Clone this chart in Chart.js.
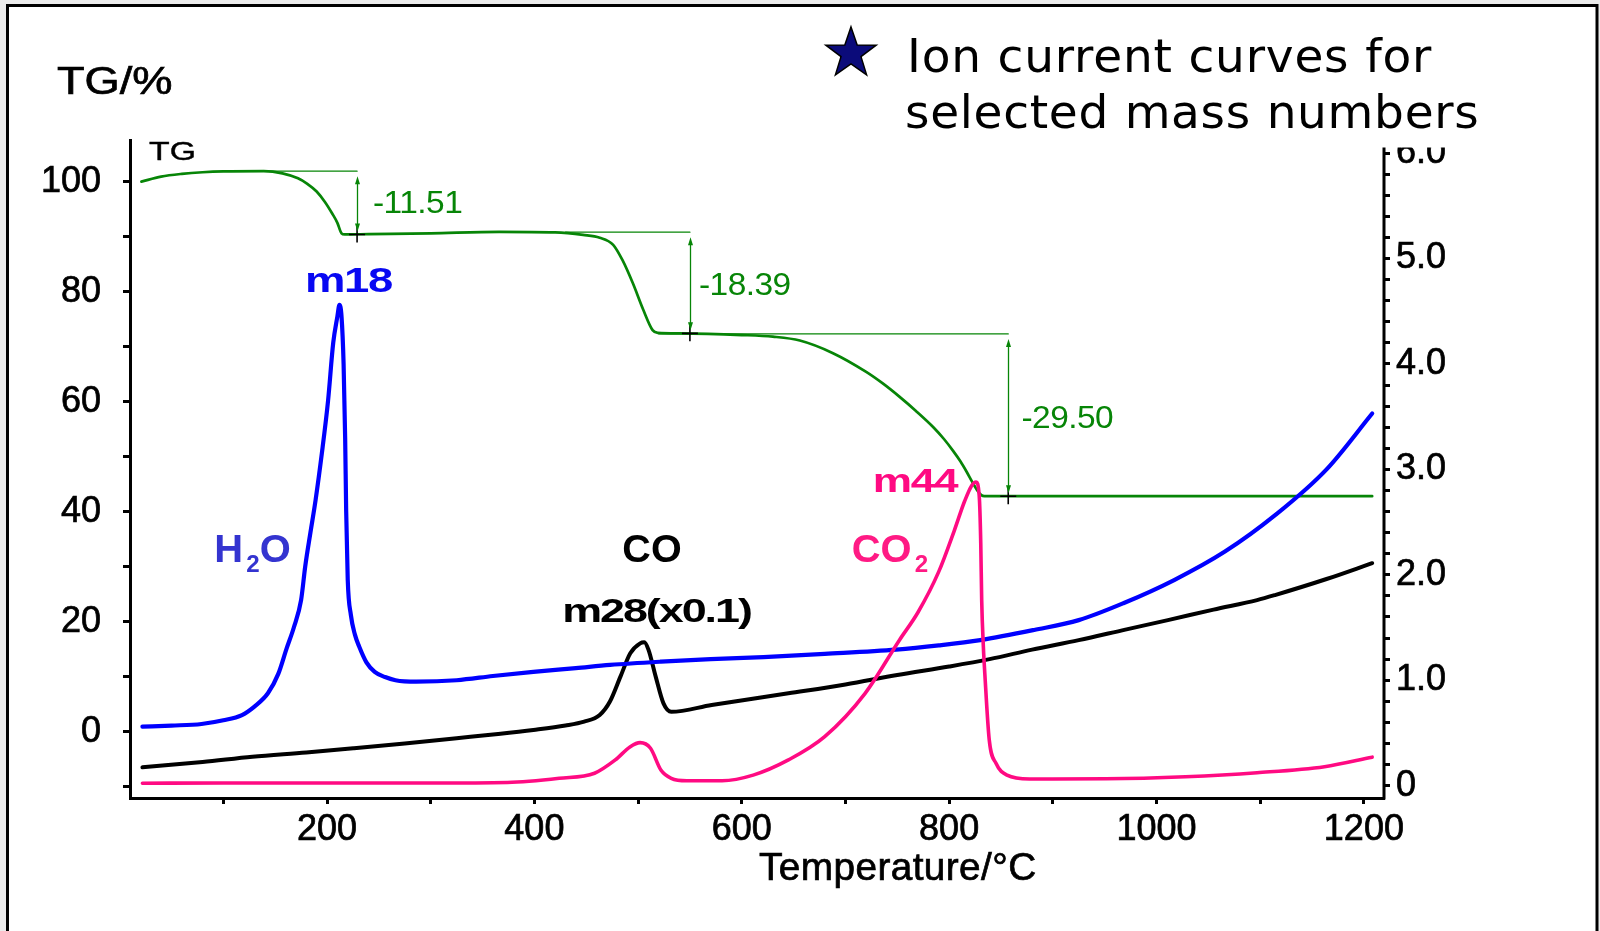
<!DOCTYPE html>
<html>
<head>
<meta charset="utf-8">
<script src="https://cdn.jsdelivr.net/npm/chart.js@4.4.1/dist/chart.umd.min.js"></script>
<style>
  html, body { margin: 0; padding: 0; background: #ebebeb; }
  #wrap { width: 1600px; height: 931px; }
</style>
</head>
<body>
<div id="wrap"><canvas id="tgms" width="1600" height="931"></canvas></div>
<script>
// TG mass curve: [temperature °C, mass %]
const tgCurve = [
  [21, 100.0], [40, 100.9], [60, 101.4], [80, 101.7], [100, 101.85], [139, 101.9],
  [157, 101.5], [172, 100.6], [181, 99.6], [190, 98.2], [198, 96.3], [205, 94.2],
  [210, 92.5], [214, 90.6], [217, 90.39], [240, 90.45], [300, 90.6], [366, 90.85],
  [420, 90.75], [447, 90.3], [463, 89.8], [476, 88.5], [485, 85.7], [495, 81.5],
  [505, 76.7], [514, 73.0], [519, 72.5], [540, 72.4], [600, 72.1], [630, 71.8],
  [656, 71.1], [688, 68.8], [720, 65.4], [736, 63.3], [752, 60.9], [768, 58.3],
  [785, 55.3], [795, 53.2], [804, 51.0], [811, 49.1], [817, 47.2], [822, 45.5],
  [827, 43.9], [831, 43.0], [834, 42.8], [900, 42.8], [1000, 42.8], [1100, 42.8],
  [1208, 42.8]
];

// ion current, m/z 18 (H2O)
const m18 = [
  [22, 0.56], [50, 0.57], [79, 0.585], [100, 0.62], [118, 0.67], [130, 0.75],
  [143, 0.876], [153, 1.06], [161, 1.3], [168, 1.5], [175, 1.76], [179, 2.08],
  [184, 2.4], [189, 2.71], [195, 3.15], [201, 3.65], [206, 4.2], [210, 4.45],
  [212, 4.56], [214, 4.45], [216, 4.0], [217.5, 3.3], [218.5, 2.6], [220, 1.95],
  [223, 1.62], [227, 1.43], [231, 1.32], [238, 1.17], [246, 1.08], [256, 1.03],
  [266, 1.0], [286, 0.986], [325, 1.0], [360, 1.04], [399, 1.08], [440, 1.115],
  [473, 1.145], [522, 1.176], [570, 1.2], [621, 1.22], [680, 1.25], [749, 1.29],
  [790, 1.33], [830, 1.38], [882, 1.477], [925, 1.57], [968, 1.73], [1017, 1.95],
  [1066, 2.22], [1115, 2.57], [1164, 3.0], [1208, 3.53]
];

// ion current, m/z 28 (CO), scaled x0.1
const m28 = [
  [22, 0.175], [80, 0.225], [128, 0.275], [180, 0.315], [226, 0.355], [275, 0.4],
  [325, 0.45], [365, 0.49], [399, 0.528], [430, 0.57], [448, 0.607], [463, 0.67],
  [473, 0.8], [483, 1.034], [492.5, 1.256], [502, 1.35], [506, 1.36], [510, 1.29],
  [517, 1.034], [524.5, 0.78], [532, 0.7], [571, 0.765], [645, 0.876], [700, 0.96],
  [750, 1.05], [800, 1.13], [839, 1.2], [880, 1.29], [925, 1.38], [970, 1.48],
  [1011, 1.57], [1055, 1.67], [1097, 1.76], [1115, 1.81], [1164, 1.96], [1208, 2.11]
];

// ion current, m/z 44 (CO2)
const m44 = [
  [22, 0.023], [100, 0.025], [200, 0.025], [300, 0.025], [374, 0.03], [424, 0.07],
  [458, 0.118], [478, 0.244], [492.5, 0.37], [502, 0.408], [512, 0.355], [522, 0.149],
  [532, 0.07], [547, 0.047], [581, 0.047], [611, 0.1], [645, 0.244], [680, 0.465],
  [719, 0.876], [752, 1.38], [770, 1.645], [790, 2.03], [805, 2.42], [815, 2.7],
  [822, 2.85], [826, 2.88], [829, 2.75], [830.5, 2.3], [831.4, 1.76], [833, 1.32],
  [834.4, 1.066], [838.7, 0.433], [845.2, 0.212], [855.8, 0.1], [877.5, 0.063],
  [951, 0.065], [1028, 0.085], [1097, 0.123], [1162, 0.18], [1208, 0.27]
];

// mass-loss steps: reference line start, arrow position, upper level, loss (%)
const stepStartT = [139, 430, 520];
const stepArrowT = [229, 550, 857];
const stepTop = [101.9, 90.8, 72.3];
const stepLoss = [11.51, 18.39, 29.50];

// tick positions (labels only on the major ones)
const tempTicks = [100, 200, 300, 400, 500, 600, 700, 800, 900, 1000, 1100, 1200];
const tgTicks = [-10, 0, 10, 20, 30, 40, 50, 60, 70, 80, 90, 100];
const ionTicks = [
  0, 0.2, 0.4, 0.6, 0.8, 1.0, 1.2, 1.4, 1.6, 1.8, 2.0, 2.2, 2.4, 2.6, 2.8, 3.0,
  3.2, 3.4, 3.6, 3.8, 4.0, 4.2, 4.4, 4.6, 4.8, 5.0, 5.2, 5.4, 5.6, 5.8, 6.0
];

// axis ranges
const tempRange = [10, 1219.4];
const tgRange = [-12.07, 107.56];
const ionRange = [-0.117, 6.124];

const SANS = "'Liberation Sans', Arial, Helvetica, sans-serif";
const LEGEND = "'DejaVu Sans', Verdana, sans-serif";
const GREEN = '#078507';

const pts = arr => arr.map(([x, y]) => ({ x, y }));
const setTicks = list => scale => { scale.ticks = list.map(value => ({ value })); };

function drawText(c, str, x, y, o) {
  c.save();
  c.font = o.font;
  c.fillStyle = o.color || '#000';
  c.textAlign = o.align || 'left';
  c.textBaseline = 'alphabetic';
  c.letterSpacing = (o.spacing || 0) + 'px';
  c.translate(x, y);
  c.scale(o.sx || 1, 1);
  c.fillText(str, 0, 0);
  if (o.stroke) {
    c.strokeStyle = o.color || '#000';
    c.lineWidth = o.stroke;
    c.strokeText(str, 0, 0);
  }
  c.restore();
}

// bold formula label, subscripts drawn smaller and lowered, centred on cx
function drawFormula(c, parts, cx, base, o) {
  const big = `bold ${o.size}px ${SANS}`;
  const small = `bold ${Math.round(o.size * 0.6)}px ${SANS}`;
  c.save();
  c.fillStyle = o.color;
  c.textBaseline = 'alphabetic';
  c.textAlign = 'left';
  c.letterSpacing = (o.spacing || 0) + 'px';
  let total = 0;
  const widths = parts.map(([s, sub]) => {
    c.font = sub ? small : big;
    const w = c.measureText(s).width + (sub ? 3 : 0);
    total += w;
    return w;
  });
  c.translate(cx, base);
  c.scale(o.sx || 1, 1);
  let x = -total / 2;
  parts.forEach(([s, sub], i) => {
    c.font = sub ? small : big;
    c.fillText(s, x + (sub ? 3 : 0), sub ? o.size * 0.26 : 0);
    x += widths[i];
  });
  c.restore();
}

const ionLabels = [
  { parts: [['m18']], cx: 348.5, base: 292, size: 35, sx: 1.3, spacing: -1, color: '#0808f2' },
  { parts: [['H'], ['2', true], ['O']], cx: 252.5, base: 562, size: 38, sx: 1.05, color: '#3434d0' },
  { parts: [['CO']], cx: 652, base: 562, size: 38, sx: 1.04, color: '#000' },
  { parts: [['m28(x0.1)']], cx: 656.5, base: 622, size: 33, sx: 1.36, spacing: -1.5, color: '#000' },
  { parts: [['m44']], cx: 915, base: 491.5, size: 33, sx: 1.34, spacing: -1, color: '#ff0a82' },
  { parts: [['CO'], ['2', true]], cx: 890, base: 562, size: 38, sx: 1.05, color: '#ff1a84' }
];

const lossLabels = [
  { x: 373, base: 213.3 },
  { x: 699, base: 295 },
  { x: 1021.5, base: 428.3 }
];

// page frame behind the chart
const framePlugin = {
  id: 'frame',
  beforeDraw(chart) {
    const c = chart.ctx;
    c.save();
    c.fillStyle = '#ebebeb';
    c.fillRect(0, 0, chart.width, chart.height);
    c.fillStyle = '#ffffff';
    c.fillRect(7, 5, 1590, 940);
    c.strokeStyle = '#000';
    c.lineWidth = 3;
    c.strokeRect(7.5, 5.5, 1589.5, 960);
    c.restore();
  }
};

// step arrows for the TG mass losses
const stepPlugin = {
  id: 'steps',
  afterDatasetsDraw(chart) {
    const c = chart.ctx;
    const xs = chart.scales.x, ys = chart.scales.yL;
    c.save();
    c.strokeStyle = GREEN;
    c.fillStyle = GREEN;
    c.lineWidth = 1.3;
    stepArrowT.forEach((t, i) => {
      const x = Math.round(xs.getPixelForValue(t)) + 0.5;
      const y1 = ys.getPixelForValue(stepTop[i]) + 5;
      const y2 = ys.getPixelForValue(stepTop[i] - stepLoss[i]) - 3;
      c.beginPath();
      c.moveTo(x, y1 + 6);
      c.lineTo(x, y2 - 6);
      c.stroke();
      c.beginPath();
      c.moveTo(x, y1); c.lineTo(x - 2.5, y1 + 8); c.lineTo(x + 2.5, y1 + 8); c.closePath();
      c.moveTo(x, y2); c.lineTo(x - 2.5, y2 - 8); c.lineTo(x + 2.5, y2 - 8); c.closePath();
      c.fill();
    });
    c.restore();
  }
};

// free text, right axis line and top of the right scale
const textPlugin = {
  id: 'texts',
  afterDraw(chart) {
    const c = chart.ctx;
    const area = chart.chartArea;

    // right axis starts a little lower than the left one
    c.save();
    c.fillStyle = '#ffffff';
    c.fillRect(area.right + 3, 128, 80, 19.5);
    c.strokeStyle = '#000';
    c.lineWidth = 3;
    c.beginPath();
    c.moveTo(area.right, 147.5);
    c.lineTo(area.right, area.bottom + 1.5);
    c.stroke();
    c.restore();

    drawText(c, 'TG/%', 57, 94, { font: `38px ${SANS}`, sx: 1.19, stroke: 0.7 });
    drawText(c, 'TG', 149, 160, { font: `26px ${SANS}`, sx: 1.3, stroke: 0.4 });
    drawText(c, 'Temperature/\u00B0C', 759, 880, { font: `38px ${SANS}`, sx: 1.02, spacing: 0.4, stroke: 0.7 });

    stepLoss.forEach((v, i) => {
      drawText(c, '-' + v.toFixed(2), lossLabels[i].x, lossLabels[i].base,
        { font: `31px ${SANS}`, color: GREEN, sx: 1.08, spacing: -0.5 });
    });

    ionLabels.forEach(l => drawFormula(c, l.parts, l.cx, l.base, l));

    // legend star
    const sx = 851, sy = 53.4, R = 26.5, r = 10.5;
    c.save();
    c.beginPath();
    for (let k = 0; k < 10; k++) {
      const a = -Math.PI / 2 + k * Math.PI / 5;
      const rad = k % 2 ? r : R;
      c.lineTo(sx + rad * Math.cos(a), sy + rad * Math.sin(a));
    }
    c.closePath();
    c.fillStyle = '#0b0b7a';
    c.fill();
    c.strokeStyle = '#000';
    c.lineWidth = 1.5;
    c.stroke();
    c.restore();

    drawText(c, 'Ion current curves for', 907, 71.5, { font: `47px ${LEGEND}`, spacing: 0.8 });
    drawText(c, 'selected mass numbers', 905, 127.5, { font: `47px ${LEGEND}`, spacing: 0.7 });
  }
};

const tickFont = { family: SANS, size: 36 };

const datasets = [
  {
    label: 'm44', data: pts(m44), yAxisID: 'yR', order: 1,
    borderColor: '#ff0a82', borderWidth: 3.6
  },
  {
    label: 'm18', data: pts(m18), yAxisID: 'yR', order: 2,
    borderColor: '#0000ff', borderWidth: 4.2
  },
  {
    label: 'm28', data: pts(m28), yAxisID: 'yR', order: 3,
    borderColor: '#000000', borderWidth: 4
  },
  {
    label: 'TG', data: pts(tgCurve), yAxisID: 'yL', order: 4,
    borderColor: GREEN, borderWidth: 2.7
  }
];

// horizontal reference levels of the steps
stepTop.forEach((lvl, i) => {
  datasets.push({
    label: 'ref' + i,
    data: [{ x: stepStartT[i], y: lvl }, { x: stepArrowT[i], y: lvl }],
    yAxisID: 'yL', order: 5, borderColor: GREEN, borderWidth: 1.3
  });
});

// step end markers
datasets.push({
  label: 'ends',
  data: stepArrowT.map((t, i) => ({ x: t, y: stepTop[i] - stepLoss[i] })),
  yAxisID: 'yL', order: 0, showLine: false,
  pointStyle: 'cross', pointRadius: 8, pointBorderWidth: 1.6,
  pointBorderColor: '#000', pointBackgroundColor: '#000'
});

const tickText = { textStrokeColor: '#000', textStrokeWidth: 0.7 };

new Chart(document.getElementById('tgms'), {
  type: 'line',
  data: { datasets },
  options: {
    responsive: false,
    devicePixelRatio: 1,
    animation: false,
    events: [],
    layout: { padding: { top: 140, left: 0, right: 0, bottom: 0 } },
    elements: {
      point: { radius: 0 },
      line: { cubicInterpolationMode: 'monotone', borderJoinStyle: 'round', borderCapStyle: 'round' }
    },
    plugins: { legend: { display: false }, tooltip: { enabled: false } },
    scales: {
      x: {
        type: 'linear', min: tempRange[0], max: tempRange[1],
        afterBuildTicks: setTicks(tempTicks),
        afterFit: s => { s.height = 133; },
        border: { display: true, color: '#000', width: 3 },
        grid: { drawOnChartArea: false, drawTicks: true, tickLength: 6, tickWidth: 3, tickColor: '#000' },
        ticks: {
          ...tickText, autoSkip: false, maxRotation: 0, padding: 4, color: '#000', font: tickFont,
          callback: v => (v % 200 === 0 ? String(v) : '')
        }
      },
      yL: {
        type: 'linear', position: 'left', min: tgRange[0], max: tgRange[1],
        afterBuildTicks: setTicks(tgTicks),
        afterFit: s => { s.width = 130; },
        border: { display: true, color: '#000', width: 3 },
        grid: { drawOnChartArea: false, drawTicks: true, tickLength: 7, tickWidth: 3, tickColor: '#000' },
        ticks: {
          ...tickText, autoSkip: false, padding: 22, color: '#000', font: tickFont,
          callback: v => (v >= 0 && v % 20 === 0 ? String(v) : '')
        }
      },
      yR: {
        type: 'linear', position: 'right', min: ionRange[0], max: ionRange[1],
        afterBuildTicks: setTicks(ionTicks),
        afterFit: s => { s.width = 216; },
        border: { display: false },
        grid: { drawOnChartArea: false, drawTicks: true, tickLength: 6, tickWidth: 3, tickColor: '#000' },
        ticks: {
          ...tickText, autoSkip: false, padding: 6, color: '#000', font: tickFont,
          callback: v => {
            if (Math.abs(v - Math.round(v)) > 1e-6) return '';
            return v === 0 ? '0' : v.toFixed(1);
          }
        }
      }
    }
  },
  plugins: [framePlugin, stepPlugin, textPlugin]
});
</script>
</body>
</html>
